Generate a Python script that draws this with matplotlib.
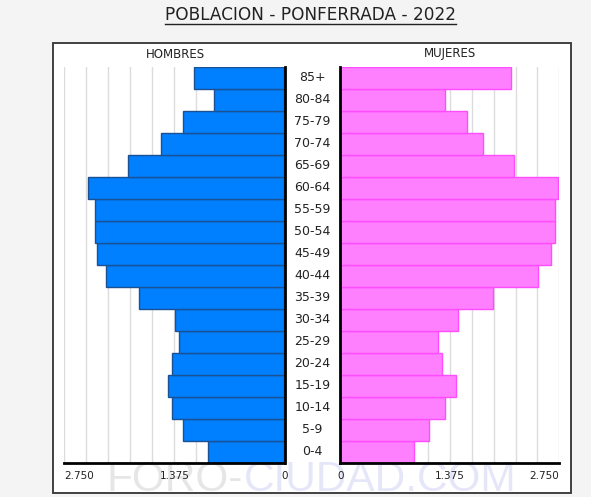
import matplotlib
matplotlib.use('Agg')
import matplotlib.pyplot as plt
from matplotlib.patches import Rectangle
from matplotlib.lines import Line2D

## data (bottom row first)
ages = ['0-4', '5-9', '10-14', '15-19', '20-24', '25-29', '30-34', '35-39', '40-44',
        '45-49', '50-54', '55-59', '60-64', '65-69', '70-74', '75-79', '80-84', '85+']
hombres = [961, 1267, 1405, 1450, 1400, 1316, 1371, 1815, 2227,
           2340, 2365, 2365, 2448, 1952, 1540, 1265, 878, 1130]
mujeres = [925, 1114, 1312, 1451, 1283, 1232, 1480, 1921, 2481,
           2640, 2699, 2695, 2728, 2178, 1787, 1589, 1312, 2145]
tick_vals = [0, 1375, 2750]
tick_text = ['0', '1.375', '2.750']
xmax = 2750
grid_step = 275

W, H = 591, 497

def fx(px):
    return px / W

def fy(py):
    return 1 - py / H

fig = plt.figure(figsize=(W / 100, H / 100), dpi=100)
fig.patch.set_facecolor('#f4f4f4')

# white panel
panel = Rectangle((fx(52.5), fy(492.5)), fx(571) - fx(52.5), fy(43) - fy(492.5),
                  transform=fig.transFigure, facecolor='white', edgecolor='#333333',
                  linewidth=1.3, zorder=-5)
fig.patches.append(panel)

# watermark
wm1 = fig.text(fx(106), fy(491), 'FORO-', family='Liberation Sans', fontsize=30.5,
               color='#e6e6e6', ha='left', va='baseline', zorder=-4)
fig.canvas.draw()
bb = wm1.get_window_extent()
fig.text(bb.x1 / W + 0.002, fy(491), 'CIUDAD.COM', family='Liberation Sans', fontsize=30.5,
         color='#e6e6f9', ha='left', va='baseline', zorder=-4)

top, bot = 66.5, 463
axL = fig.add_axes([fx(64.3), fy(bot), fx(284.5) - fx(64.3), fy(top) - fy(bot)])
axR = fig.add_axes([fx(340.3), fy(bot), fx(559.3) - fx(340.3), fy(top) - fy(bot)])

ypos = list(range(len(ages)))

axL.barh(ypos, hombres, height=1, color='#0080ff', edgecolor='#1b5190', linewidth=1, zorder=2)
axR.barh(ypos, mujeres, height=1, color='#ff80ff', edgecolor='#ff4cff', linewidth=1, zorder=2)

for ax, side in [(axL, 'right'), (axR, 'left')]:
    ax.set_xlim(0, xmax)
    ax.set_ylim(-0.5, len(ages) - 0.5)
    ax.patch.set_visible(False)
    for g in range(grid_step, xmax + 1, grid_step):
        ax.axvline(g, color='#dcdcdc', linewidth=1, zorder=0)
    for s in ['top', 'left', 'right']:
        ax.spines[s].set_visible(False)
    ax.spines[side].set_visible(True)
    ax.spines[side].set_linewidth(2)
    ax.spines[side].set_color('black')
    ax.spines['bottom'].set_linewidth(2)
    ax.spines['bottom'].set_color('black')
    ax.set_yticks([])
    ax.set_xticks(tick_vals)
    ax.set_xticklabels(tick_text, fontsize=7.5, color='#222222')
    ax.tick_params(axis='x', length=0, pad=6)

axL.invert_xaxis()
axL.get_xticklabels()[2].set_ha('left')
axR.get_xticklabels()[2].set_ha('right')

# age labels in the middle column
for i, a in enumerate(ages):
    yc = bot - (i + 0.5) * (bot - top) / len(ages)
    fig.text(fx(312.4), fy(yc), a, ha='center', va='center', fontsize=9, color='#222222')

fig.text(fx(175.5), fy(54), 'HOMBRES', ha='center', va='center', fontsize=8.5, color='#222222')
fig.text(fx(450), fy(54), 'MUJERES', ha='center', va='center', fontsize=8.5, color='#222222')

title = fig.text(fx(311), fy(15), 'POBLACION - PONFERRADA - 2022', ha='center', va='center',
                 fontsize=12.2, color='#222222')
fig.canvas.draw()
tb = title.get_window_extent()
fig.lines.append(Line2D([tb.x0 / W, tb.x1 / W], [fy(23.5), fy(23.5)], transform=fig.transFigure,
                        color='#222222', linewidth=1))

fig.savefig('out.png', dpi=100, facecolor=fig.get_facecolor())
